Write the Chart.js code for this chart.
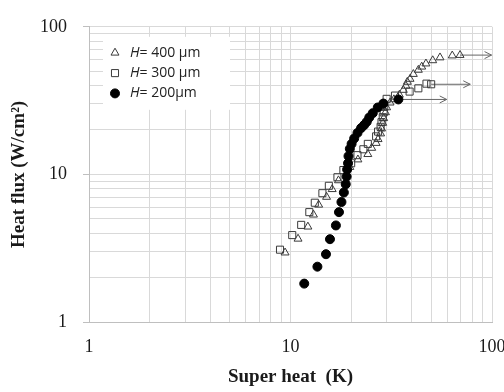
<!DOCTYPE html>
<html>
<head>
<meta charset="utf-8">
<script src="https://cdn.jsdelivr.net/npm/chart.js@4/dist/chart.umd.min.js"></script>
<style>
  body { margin: 0; background: #fff; }
</style>
</head>
<body>
<canvas id="chart" width="504" height="392"></canvas>
<script>
const ctx = document.getElementById('chart');

// H = 400 um (open triangles)
const superHeat400 = [9.4, 10.9, 12.2, 13.0, 13.8, 15.1, 16.1, 17.3, 19.7, 21.6, 24.2, 25.3, 26.6, 27.2, 28.0, 28.3, 28.7, 29.0, 29.6, 30.0, 31.2, 32.6, 34.7, 36.3, 37.4, 38.0, 39.2, 40.7, 43.1, 44.8, 47.0, 50.8, 55.2, 63.5, 69.4];
const heatFlux400 = [2.95, 3.66, 4.42, 5.33, 6.22, 7.03, 7.93, 9.1, 11.2, 12.6, 13.7, 15.1, 16.3, 17.3, 18.9, 20.4, 22.3, 24.0, 26.3, 28.4, 30.6, 32.2, 34.6, 37.3, 39.8, 42.3, 44.3, 47.8, 51.0, 53.6, 56.3, 59.2, 61.9, 63.8, 64.3];

// H = 300 um (open squares)
const superHeat300 = [8.87, 10.2, 11.3, 12.4, 13.2, 14.4, 15.5, 17.1, 18.3, 20.0, 21.5, 23.0, 24.2, 26.6, 27.2, 28.0, 28.3, 28.7, 29.0, 29.2, 30.0, 33.0, 39.0, 43.1, 47.3, 49.9];
const heatFlux300 = [3.09, 3.88, 4.55, 5.55, 6.43, 7.46, 8.37, 9.57, 10.7, 11.9, 13.5, 14.8, 16.1, 18.1, 19.5, 21.0, 22.6, 24.4, 26.3, 28.7, 32.5, 34.2, 36.4, 38.3, 41.2, 40.8];

// H = 200 um (filled circles)
const superHeat200 = [11.7, 13.6, 15.0, 15.7, 16.8, 17.4, 17.9, 18.4, 18.8, 19.0, 19.1, 19.3, 19.4, 19.7, 20.1, 20.7, 21.5, 22.4, 23.2, 23.9, 24.6, 25.6, 27.1, 28.9, 34.3];
const heatFlux200 = [1.82, 2.37, 2.88, 3.64, 4.51, 5.55, 6.50, 7.54, 8.58, 9.66, 10.8, 11.9, 13.3, 14.9, 16.1, 17.5, 19.1, 20.6, 21.6, 22.7, 24.3, 26.0, 28.4, 30.2, 32.2];

// arrows (400, 300, 200)
const arrowFlux = [64.3, 40.8, 32.2];
const arrowFrom = [69.4, 49.9, 34.3];
const arrowTo = [99.5, 78, 59.6];

const legendLabels = ['400 µm', '300 µm', '200µm'];
const gridValues = [1, 2, 3, 4, 5, 6, 7, 8, 9, 10, 20, 30, 40, 50, 60, 70, 80, 90, 100];
const tickLabels = [1, 10, 100];

function points(xs, ys) {
    return xs.map((x, i) => ({x: x, y: ys[i]}));
}

const serif = '"Liberation Serif", "Times New Roman", serif';

const s200 = {
    data: points(superHeat200, heatFlux200),
    pointStyle: 'circle', pointRadius: 4.5,
    backgroundColor: '#000', borderColor: '#000', borderWidth: 1
};
const s300 = {
    data: points(superHeat300, heatFlux300),
    pointStyle: 'rect', pointRadius: 5,
    backgroundColor: 'rgba(255,255,255,0)', borderColor: '#3a3a3a', borderWidth: 1
};
const s400 = {
    data: points(superHeat400, heatFlux400),
    pointStyle: 'triangle', pointRadius: 4.6,
    backgroundColor: 'rgba(255,255,255,0)', borderColor: '#3a3a3a', borderWidth: 1
};

const arrows = arrowFlux.map((y, i) => ({
    arrow: true,
    data: [{x: arrowFrom[i], y: y}, {x: arrowTo[i], y: y}],
    showLine: true, pointRadius: 0,
    borderColor: '#666', borderWidth: 1
}));

const arrowHeads = {
    id: 'arrowHeads',
    afterDatasetsDraw(chart) {
        const c = chart.ctx;
        chart.data.datasets.forEach((ds, i) => {
            if (!ds.arrow) return;
            const pts = chart.getDatasetMeta(i).data;
            const tip = pts[pts.length - 1];
            c.save();
            c.strokeStyle = ds.borderColor;
            c.lineWidth = 1;
            c.beginPath();
            c.moveTo(tip.x - 7, tip.y - 3.5);
            c.lineTo(tip.x, tip.y);
            c.lineTo(tip.x - 7, tip.y + 3.5);
            c.stroke();
            c.restore();
        });
    }
};

const legendBox = {
    id: 'legendBox',
    afterDatasetsDraw(chart) {
        const c = chart.ctx;
        const area = chart.chartArea;
        const left = area.left + 14, top = area.top + 10;
        c.save();
        c.fillStyle = '#fff';
        c.fillRect(left, top, 127, 73);
        [s400, s300, s200].forEach((s, i) => {
            const y = top + 16 + i * 20.3;
            c.fillStyle = s.backgroundColor;
            c.strokeStyle = s.borderColor;
            c.lineWidth = 1;
            Chart.helpers.drawPoint(c, {pointStyle: s.pointStyle, radius: s.pointRadius, rotation: 0, borderWidth: 1}, left + 12, y);
            c.fillStyle = '#222';
            c.textBaseline = 'middle';
            c.font = 'italic 14px "Open Sans"';
            c.fillText('H', left + 27, y);
            const w = c.measureText('H').width;
            c.font = '14px "Open Sans"';
            c.fillText('= ' + legendLabels[i], left + 27 + w, y);
        });
        c.restore();
    }
};

const chart = new Chart(ctx, {
    type: 'scatter',
    data: {
        datasets: [s200, s300, s400, ...arrows]
    },
    plugins: [arrowHeads, legendBox],
    options: {
        responsive: false,
        animation: false,
        layout: {
            padding: {top: 12, right: 12, left: 0, bottom: 0}
        },
        scales: {
            x: {
                type: 'logarithmic',
                min: 1, max: 100,
                afterBuildTicks: s => { s.ticks = gridValues.map(v => ({value: v})); },
                afterFit: s => { s.height = 70; s.paddingLeft = 0; s.paddingRight = 12; },
                ticks: {
                    autoSkip: false, maxRotation: 0, padding: 14,
                    color: '#1a1a1a',
                    font: {family: serif, size: 18},
                    callback: v => tickLabels.includes(v) ? String(v) : ''
                },
                grid: {color: '#d9d9d9', drawTicks: false},
                border: {color: '#bfbfbf'},
                title: {
                    display: true, text: 'Super heat  (K)', color: '#1a1a1a',
                    font: {family: serif, size: 19, weight: 'bold'},
                    padding: {top: 0, bottom: 4}
                }
            },
            y: {
                type: 'logarithmic',
                min: 1, max: 100,
                afterBuildTicks: s => { s.ticks = gridValues.map(v => ({value: v})); },
                afterFit: s => { s.width = 89; },
                ticks: {
                    autoSkip: false, padding: 16,
                    color: '#1a1a1a',
                    font: {family: serif, size: 18},
                    callback: v => tickLabels.includes(v) ? String(v) : ''
                },
                grid: {
                    color: '#d9d9d9', tickLength: 6,
                    tickColor: c => (c.tick && tickLabels.includes(c.tick.value)) ? '#bfbfbf' : 'rgba(0,0,0,0)'
                },
                border: {color: '#bfbfbf'},
                title: {
                    display: true, text: 'Heat flux (W/cm²)', color: '#1a1a1a',
                    font: {family: serif, size: 19, weight: 'bold'},
                    padding: {top: 8, bottom: 0}
                }
            }
        },
        plugins: {
            legend: {display: false},
            tooltip: {enabled: false}
        }
    }
});
</script>
</body>
</html>
